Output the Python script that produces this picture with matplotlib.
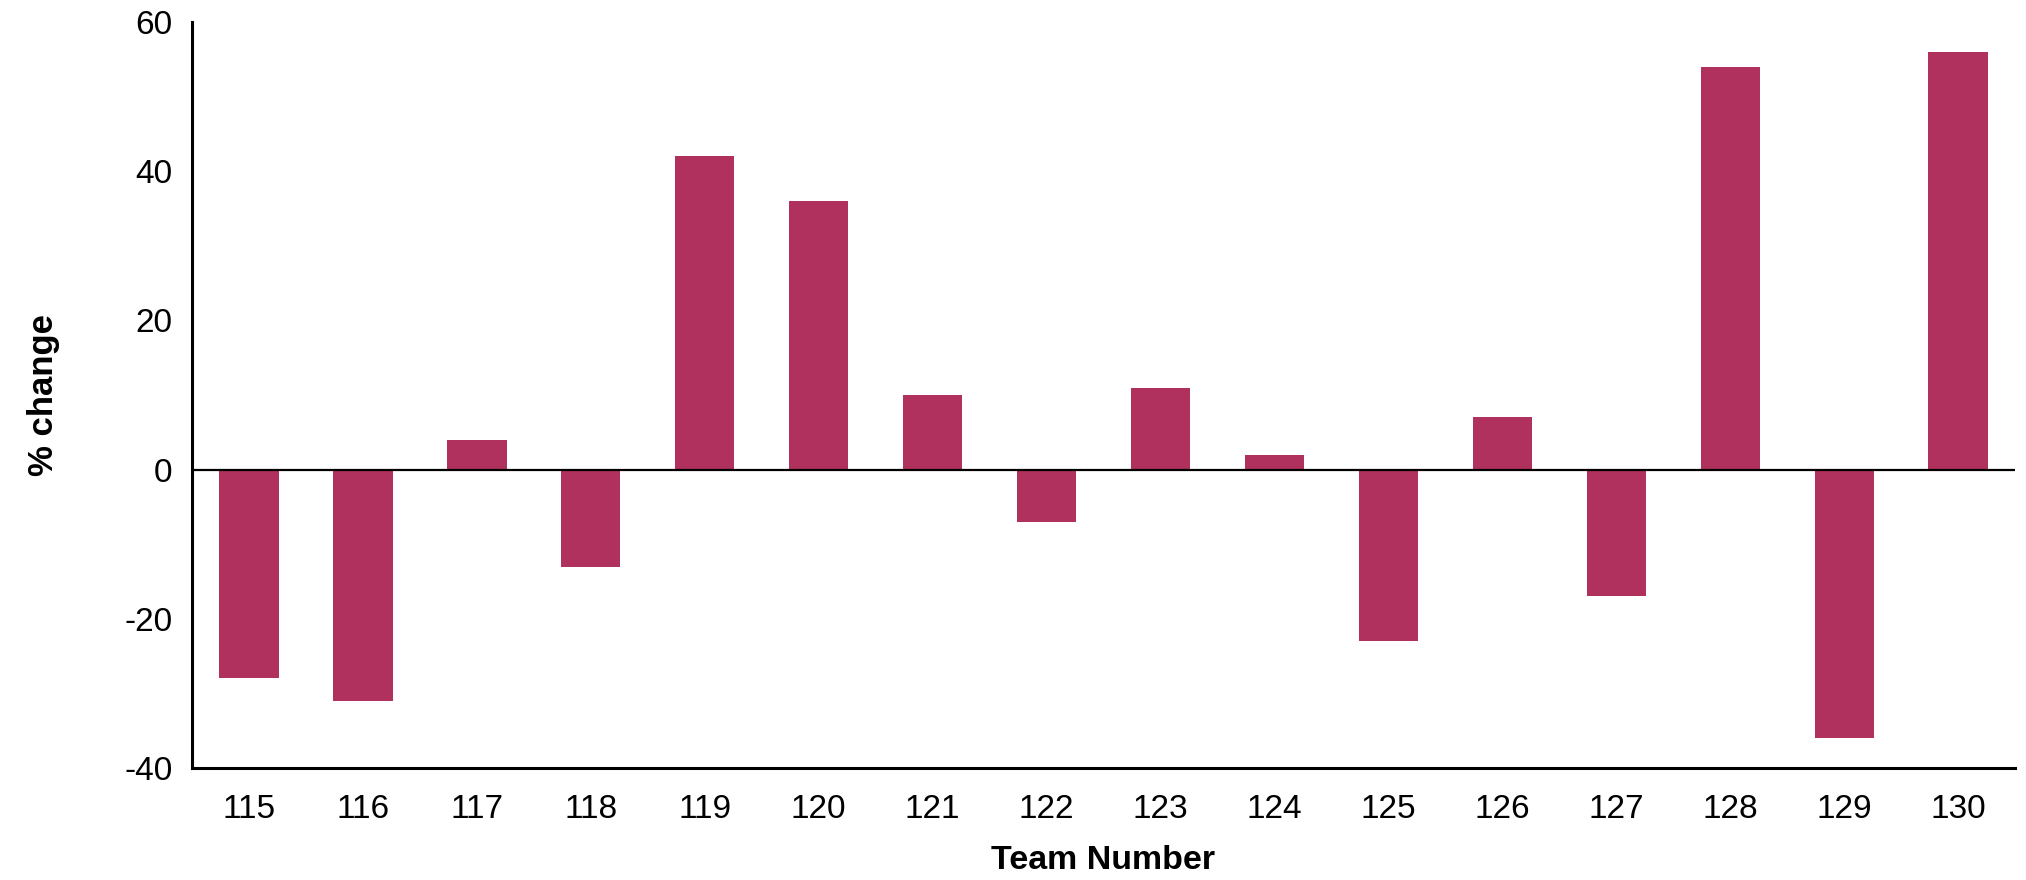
import matplotlib
matplotlib.use("Agg")
import matplotlib.pyplot as plt
import numpy as np

teams = ["115", "116", "117", "118", "119", "120", "121", "122",
         "123", "124", "125", "126", "127", "128", "129", "130"]
pct_change = [-28, -31, 4, -13, 42, 36, 10, -7, 11, 2, -23, 7, -17, 54, -36, 56]
y_ticks = [-40, -20, 0, 20, 40, 60]

plt.rcParams['font.family'] = ['Liberation Sans', 'DejaVu Sans']
plt.rcParams['axes.unicode_minus'] = False

fig = plt.figure(figsize=(20.26, 8.8), dpi=100)
ax = fig.add_axes([0.0948, 0.1273, 0.8998, 0.8477])

x = np.arange(len(teams))
ax.bar(x, pct_change, width=0.52, color="#B0305E", zorder=2)
ax.axhline(0, color="black", linewidth=1.6, zorder=3)

ax.set_xlim(-0.5, len(teams) - 0.5)
ax.set_ylim(-40, 60)
ax.set_yticks(y_ticks)
ax.set_xticks(x)
ax.set_xticklabels(teams)

for s in ["top", "right"]:
    ax.spines[s].set_visible(False)
for s in ["left", "bottom"]:
    ax.spines[s].set_linewidth(2.2)
    ax.spines[s].set_color("black")

ax.tick_params(axis="both", length=0, labelsize=24)
ax.tick_params(axis="x", pad=19)
ax.tick_params(axis="y", pad=14)

ax.set_xlabel("Team Number", fontsize=24.5, fontweight="bold", labelpad=14)
ax.set_ylabel("% change", fontsize=25, fontweight="bold", labelpad=46)

fig.savefig("out.png", dpi=100)
